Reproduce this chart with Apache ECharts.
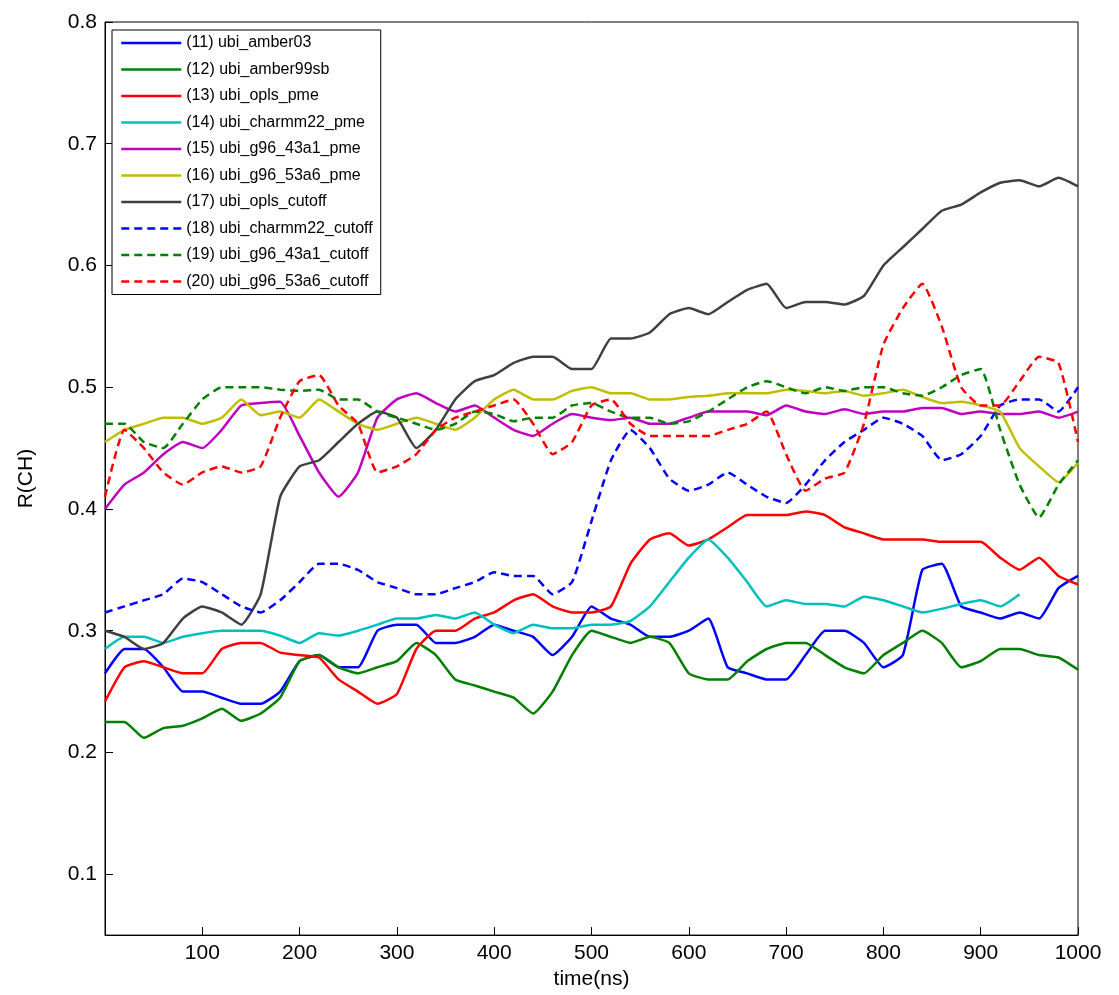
<!DOCTYPE html>
<html>
<head>
<meta charset="utf-8">
<script src="https://cdn.jsdelivr.net/npm/echarts@6/dist/echarts.min.js"></script>
<style>html,body{margin:0;padding:0;background:#fff}#chart{width:1119px;height:995px}</style>
</head>
<body>
<div id="chart"></div>
<script>
var times = [];
for (var t = 0; t <= 1000; t += 20) times.push(t);

var amber03 = [0.265,0.285,0.285,0.27,0.25,0.25,0.245,0.24,0.24,0.25,0.275,0.28,0.27,0.27,0.3,0.305,0.305,0.29,0.29,0.295,0.305,0.3,0.295,0.28,0.295,0.32,0.31,0.305,0.295,0.295,0.3,0.31,0.27,0.265,0.26,0.26,0.28,0.3,0.3,0.29,0.27,0.28,0.35,0.355,0.32,0.315,0.31,0.315,0.31,0.335,0.345];
var amber99sb = [0.225,0.225,0.212,0.22,0.222,0.228,0.236,0.226,0.232,0.245,0.275,0.28,0.27,0.265,0.27,0.275,0.29,0.28,0.26,0.255,0.25,0.245,0.232,0.25,0.28,0.3,0.295,0.29,0.295,0.29,0.265,0.26,0.26,0.275,0.285,0.29,0.29,0.28,0.27,0.265,0.28,0.29,0.3,0.29,0.27,0.275,0.285,0.285,0.28,0.278,0.268];
var oplsPme = [0.242,0.27,0.275,0.27,0.265,0.265,0.285,0.29,0.29,0.282,0.28,0.278,0.26,0.25,0.24,0.248,0.285,0.3,0.3,0.31,0.315,0.325,0.33,0.32,0.315,0.315,0.32,0.355,0.375,0.38,0.37,0.375,0.385,0.395,0.395,0.395,0.398,0.395,0.385,0.38,0.375,0.375,0.375,0.373,0.373,0.373,0.36,0.35,0.36,0.345,0.338];
var charmm22Pme = [0.285,0.295,0.295,0.29,0.295,0.298,0.3,0.3,0.3,0.296,0.29,0.298,0.296,0.3,0.305,0.31,0.31,0.313,0.31,0.315,0.305,0.298,0.305,0.302,0.302,0.305,0.305,0.308,0.32,0.34,0.36,0.375,0.36,0.34,0.32,0.325,0.322,0.322,0.32,0.328,0.325,0.32,0.315,0.318,0.322,0.325,0.32,0.33,null,null,null];
var g96a1Pme = [0.4,0.42,0.43,0.445,0.455,0.45,0.465,0.485,0.487,0.488,0.46,0.43,0.41,0.43,0.475,0.49,0.495,0.487,0.48,0.485,0.475,0.465,0.46,0.47,0.478,0.475,0.473,0.475,0.47,0.47,0.475,0.48,0.48,0.48,0.477,0.485,0.48,0.478,0.482,0.478,0.48,0.48,0.483,0.483,0.478,0.48,0.478,0.478,0.48,0.475,0.48];
var g96a6Pme = [0.455,0.465,0.47,0.475,0.475,0.47,0.475,0.49,0.477,0.48,0.475,0.49,0.48,0.47,0.465,0.47,0.475,0.47,0.465,0.475,0.49,0.498,0.49,0.49,0.497,0.5,0.495,0.495,0.49,0.49,0.492,0.493,0.495,0.495,0.495,0.498,0.497,0.495,0.497,0.493,0.495,0.498,0.492,0.487,0.488,0.485,0.48,0.45,0.435,0.422,0.438];
var oplsCut = [0.3,0.295,0.285,0.29,0.31,0.32,0.315,0.305,0.33,0.41,0.435,0.44,0.455,0.47,0.48,0.475,0.45,0.465,0.49,0.505,0.51,0.52,0.525,0.525,0.515,0.515,0.54,0.54,0.545,0.56,0.565,0.56,0.57,0.58,0.585,0.565,0.57,0.57,0.568,0.575,0.6,0.615,0.63,0.645,0.65,0.66,0.668,0.67,0.665,0.672,0.665];
var charmm22Cut = [0.315,0.32,0.325,0.33,0.343,0.34,0.33,0.32,0.315,0.325,0.34,0.355,0.355,0.35,0.34,0.335,0.33,0.33,0.335,0.34,0.348,0.345,0.345,0.33,0.34,0.39,0.44,0.465,0.45,0.425,0.415,0.42,0.43,0.42,0.41,0.405,0.42,0.44,0.455,0.465,0.475,0.47,0.46,0.44,0.445,0.46,0.485,0.49,0.49,0.48,0.5];
var g96a1Cut = [0.47,0.47,0.455,0.45,0.47,0.49,0.5,0.5,0.5,0.498,0.497,0.498,0.49,0.49,0.48,0.475,0.47,0.465,0.47,0.48,0.478,0.472,0.475,0.475,0.485,0.487,0.48,0.475,0.475,0.47,0.472,0.48,0.49,0.5,0.505,0.5,0.495,0.5,0.497,0.5,0.5,0.495,0.493,0.5,0.51,0.515,0.465,0.42,0.393,0.42,0.44];
var g96a6Cut = [0.41,0.465,0.45,0.43,0.42,0.43,0.435,0.43,0.435,0.475,0.505,0.51,0.485,0.47,0.43,0.435,0.445,0.465,0.475,0.48,0.485,0.49,0.47,0.445,0.455,0.485,0.49,0.47,0.46,0.46,0.46,0.46,0.465,0.47,0.48,0.445,0.415,0.425,0.43,0.47,0.535,0.565,0.585,0.55,0.5,0.485,0.485,0.505,0.525,0.52,0.455];

var names = ['(11) ubi_amber03','(12) ubi_amber99sb','(13) ubi_opls_pme','(14) ubi_charmm22_pme','(15) ubi_g96_43a1_pme','(16) ubi_g96_53a6_pme','(17) ubi_opls_cutoff','(18) ubi_charmm22_cutoff','(19) ubi_g96_43a1_cutoff','(20) ubi_g96_53a6_cutoff'];
var colors = ['#0000ff','#008000','#ff0000','#00bfbf','#bf00bf','#bfbf00','#404040','#0000ff','#008000','#ff0000'];
var values = [amber03,amber99sb,oplsPme,charmm22Pme,g96a1Pme,g96a6Pme,oplsCut,charmm22Cut,g96a1Cut,g96a6Cut];

var series = [];
for (var i = 0; i < values.length; i++) {
    series.push({
        name: names[i],
        type: 'line',
        symbol: 'none',
        smooth: 0.15,
        data: times.map(function (x, k) { return [x, values[i][k]]; }),
        lineStyle: { color: colors[i], width: 2.5, type: i >= 7 ? [8, 5] : 'solid' },
        itemStyle: { color: colors[i] }
    });
}

var myChart = echarts.init(document.getElementById('chart'));
var option = {
    animation: false,
    textStyle: { fontFamily: 'Liberation Sans, Arial, sans-serif' },
    grid: { left: 105, right: 41, top: 22, bottom: 40, show: true, borderColor: '#000', borderWidth: 1 },
    legend: {
        orient: 'vertical', left: 112, top: 30,
        itemWidth: 60, itemHeight: 14, itemGap: 10.5,
        borderColor: '#000', borderWidth: 1, padding: [5, 8, 5, 8],
        backgroundColor: '#fff',
        itemStyle: { opacity: 0 },
        lineStyle: { width: 2.5 },
        textStyle: { fontSize: 16, color: '#000' },
        data: names
    },
    xAxis: {
        type: 'value', min: 0, max: 1000, interval: 100,
        name: 'time(ns)', nameLocation: 'middle', nameGap: 22,
        nameTextStyle: { fontSize: 21, color: '#000' },
        axisLine: { lineStyle: { color: '#000' } },
        axisTick: { inside: true, length: 8, lineStyle: { color: '#000' } },
        axisLabel: { fontSize: 21, color: '#000', formatter: function (v) { return v === 0 ? '' : v; } },
        splitLine: { show: false }
    },
    yAxis: {
        type: 'value', min: 0.05, max: 0.8,
        name: 'R(CH)', nameLocation: 'middle', nameGap: 68,
        nameTextStyle: { fontSize: 21, color: '#000' },
        axisLine: { lineStyle: { color: '#000' } },
        axisTick: { inside: true, length: 8, lineStyle: { color: '#000' }, customValues: [0.1,0.2,0.3,0.4,0.5,0.6,0.7,0.8] },
        axisLabel: { fontSize: 21, color: '#000', customValues: [0.1,0.2,0.3,0.4,0.5,0.6,0.7,0.8], formatter: function (v) { return v.toFixed(1); } },
        splitLine: { show: false }
    },
    series: series
};
myChart.setOption(option);
</script>
</body>
</html>
